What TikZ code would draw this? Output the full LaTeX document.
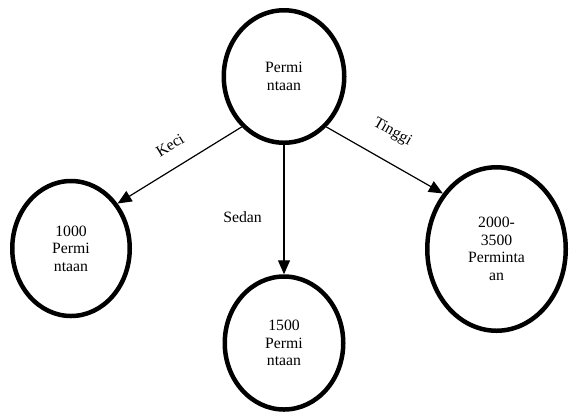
\documentclass[tikz,border=0pt]{standalone}
\usepackage{fontspec}
\setmainfont{Liberation Serif}
\usetikzlibrary{shapes.geometric, arrows.meta}
\definecolor{ink}{HTML}{000000}
\newcommand{\figfontsize}{\fontsize{15.8}{17.6}\selectfont}
\tikzset{
  every picture/.style = {font=\figfontsize, line join=round},
  state/.style         = {ellipse, draw=ink, line width=4.5bp, align=center, inner sep=0pt, text=ink},
  branch/.style        = {line width=1.2bp, draw=ink, -{Triangle[length=14bp, width=12bp]}},
  lbl/.style           = {inner sep=0pt, text=ink},
}

\begin{document}
\begin{tikzpicture}[x=1bp, y=-1bp]
  \useasboundingbox (0,0) rectangle (570,415);

  % ---------- the root and its three outcomes ---------------------------------
  \node[state, minimum width=120.5bp, minimum height=132.5bp] (akar)   at (284,76.5) {Permi\\ntaan};
  \node[state, minimum width=117.5bp, minimum height=135bp]   (kecil)  at (71,248.5) {1000\\Permi\\ntaan};
  \node[state, minimum width=118.5bp, minimum height=133bp]   (sedang) at (284,343)  {1500\\Permi\\ntaan};
  \node[state, minimum width=138.5bp, minimum height=163.5bp] (tinggi) at (496.5,249) {2000-\\3500\\Perminta\\an};

  % ---------- branches, labels pushed off the line -----------------------------
  \draw[branch] (akar.230) -- node[lbl, sloped, above=16bp, pos=.485] (lkeci) {Keci} (kecil.44);
  \draw[branch] (akar.south) -- node[lbl, left=21.6bp, pos=.555] (lsedan) {Sedan} (sedang.north);
  \draw[branch] (akar.310) -- node[lbl, sloped, above=20.5bp, pos=.447] (ltinggi) {Tinggi} (tinggi.134);
\end{tikzpicture}
\end{document}
